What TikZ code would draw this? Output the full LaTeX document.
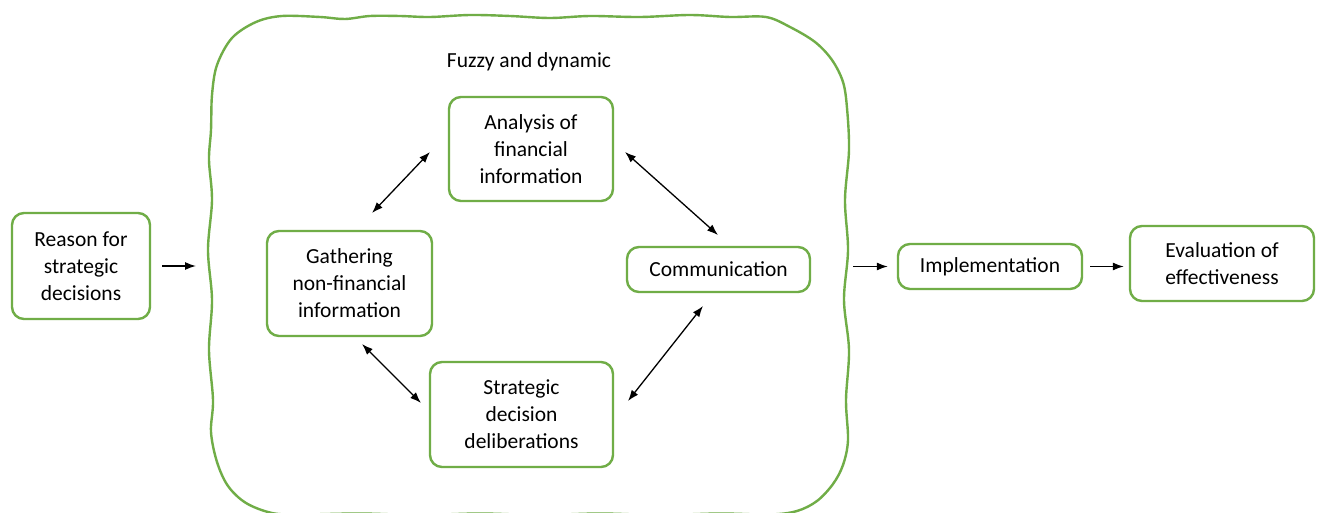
\documentclass[tikz,border=0pt]{standalone}
\usepackage{fontspec}
\setmainfont{Carlito}
\usetikzlibrary{arrows.meta,calc}
\definecolor{boxgreen}{HTML}{70AD47}
\begin{document}
\begin{tikzpicture}[x=1pt,y=-1pt,
  box/.style={draw=boxgreen,line width=2.4pt,rounded corners=12pt,fill=white,align=center,
    font=\fontsize{21.5}{27}\selectfont,inner sep=0pt},
  lbl/.style={font=\fontsize{21.5}{27}\selectfont},
  conn/.style={line width=1.3pt,-{Latex[length=11pt,width=8pt]}},
  dconn/.style={line width=1.3pt,{Latex[length=11pt,width=8pt]}-{Latex[length=11pt,width=8pt]}}]
\useasboundingbox (0,0) rectangle (1317,513);
\fill[white] (0,0) rectangle (1317,513);
\begin{scope}
\clip (0,0) rectangle (1317,513);
\draw[boxgreen,line width=2.4pt,line join=round] plot[smooth cycle,tension=0.55] coordinates {
  (211,130) (212,95) (217,65) (232,38) (256,22) (282,16)
  (320,17) (345,19) (370,16) (400,16) (430,17) (470,15) (510,16) (550,18) (590,16)
  (640,17) (690,15) (730,17) (766,17)
  (790,27) (815,42) (832,60) (843,82) (847,108)
  (849,150) (845,200) (848,250) (844,300) (849,350) (846,400) (848,440)
  (843,465) (833,484) (817,501) (797,511)
  (770,514.5) (720,513.5) (660,515) (600,513.5) (540,515) (480,513.5) (420,515) (360,513.5) (300,514.5)
  (272,513) (246,503) (228,486) (217,462) (211,432)
  (213,400) (209,350) (212,300) (208,250) (212,200) (209,160)};
\end{scope}
\node[lbl] (fuzzy) at (529,62) {Fuzzy and dynamic};
\node[box,minimum width=138pt,minimum height=106pt] (reason) at (81,266) {Reason for\\strategic\\decisions};
\node[box,minimum width=164pt,minimum height=104pt] (ana) at (531,149) {Analysis of\\financial\\information};
\node[box,minimum width=165pt,minimum height=105pt] (gath) at (349.5,283.5) {Gathering\\non-financial\\information};
\node[box,minimum width=183pt,minimum height=45pt] (comm) at (718.5,269.5) {Communication};
\node[box,minimum width=183pt,minimum height=105pt] (strat) at (521.5,414.5) {Strategic\\decision\\deliberations};
\node[box,minimum width=184pt,minimum height=45pt] (impl) at (990,266.5) {Implementation};
\node[box,minimum width=184pt,minimum height=75pt] (eval) at (1222,263.5) {Evaluation of\\effectiveness};
% connector end points
\coordinate (r1) at ($(reason.east)+(11,0)$);
\coordinate (r2) at (196,266);
\coordinate (o1) at (853,266.5);
\coordinate (o2) at ($(impl.west)+(-9,0)$);
\coordinate (i1) at ($(impl.east)+(7,0)$);
\coordinate (i2) at ($(eval.west)+(-5,3)$);
\coordinate (ag1) at (430,152);
\coordinate (ag2) at (372,213);
\coordinate (ac1) at (625,152);
\coordinate (ac2) at (718,235);
\coordinate (gs1) at (362,344);
\coordinate (gs2) at (421,403);
\coordinate (sc1) at (628,401);
\coordinate (sc2) at (703,306);
\draw[conn] (r1) -- (r2);
\draw[conn] (o1) -- (o2);
\draw[conn] (i1) -- (i2);
\draw[dconn] (ag1) -- (ag2);
\draw[dconn] (ac1) -- (ac2);
\draw[dconn] (gs1) -- (gs2);
\draw[dconn] (sc1) -- (sc2);
\end{tikzpicture}
\end{document}
